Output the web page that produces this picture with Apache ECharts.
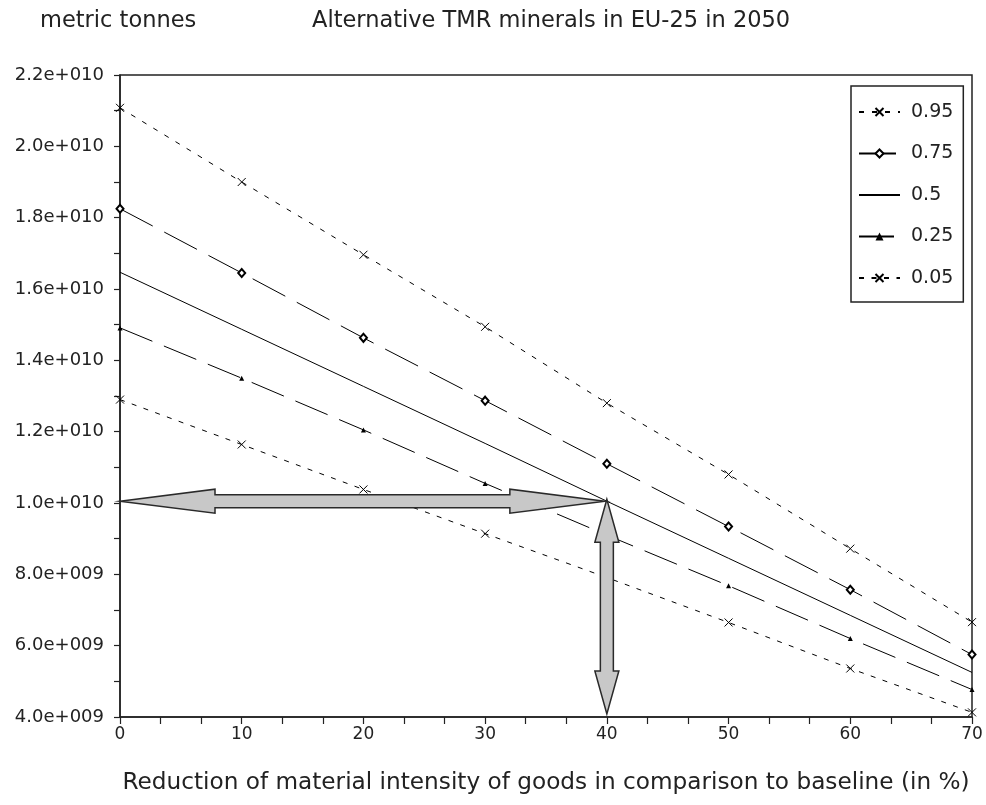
<!DOCTYPE html>
<html><head><meta charset="utf-8">
<script src="https://cdn.jsdelivr.net/npm/echarts@6/dist/echarts.min.js"></script>
<style>html,body{margin:0;padding:0;background:#fff}#chart{width:986px;height:805px}</style>
</head><body><div id="chart"></div>
<script>
// Reduction of material intensity (%) and TMR minerals (metric tonnes) per quantile
const reduction = [0, 10, 20, 30, 40, 50, 60, 70];
const q95 = [21.08e9, 19.0e9, 16.96e9, 14.94e9, 12.8e9, 10.8e9, 8.72e9, 6.66e9];
const q75 = [18.25e9, 16.45e9, 14.63e9, 12.87e9, 11.1e9, 9.34e9, 7.57e9, 5.75e9];
const q50 = [16.47e9, 14.87e9, 13.27e9, 11.67e9, 10.05e9, 8.45e9, 6.85e9, 5.25e9];
const q25 = [14.91e9, 13.5e9, 12.05e9, 10.55e9, 9.1e9, 7.68e9, 6.2e9, 4.77e9];
const q05 = [12.9e9, 11.64e9, 10.38e9, 9.14e9, 7.91e9, 6.65e9, 5.36e9, 4.13e9];
const seriesNames = ['0.95', '0.75', '0.5', '0.25', '0.05'];
const xRange = [0, 70, 10];
const yRange = [4e9, 2.2e10, 2e9];
// highlighted reading on the median line
const targetReduction = 40;

const FONT = 'DejaVu Sans';
const INK = '#222';

function sci(v) {
  if (v === 0) return '0';
  const e = Math.floor(Math.log10(Math.abs(v)) + 1e-9);
  const m = v / Math.pow(10, e);
  return m.toFixed(1) + 'e+' + String(e).padStart(3, '0');
}
function pairs(ys) { return reduction.map((x, i) => [x, ys[i]]); }

const crossSymbol = 'path://M0,0L10,10M0,10L10,0';
const targetValue = q50[reduction.indexOf(targetReduction)];

function arrowPoints(ax, ay, bx, by, headLen, headHalf, shaftHalf) {
  // double-headed arrow polygon from a to b
  const dx = bx - ax, dy = by - ay, len = Math.hypot(dx, dy);
  const ux = dx / len, uy = dy / len, nx = -uy, ny = ux;
  const P = (s, t) => [ax + ux * s + nx * t, ay + uy * s + ny * t];
  return [P(0, 0), P(headLen, headHalf), P(headLen, shaftHalf), P(len - headLen, shaftHalf),
    P(len - headLen, headHalf), P(len, 0), P(len - headLen, -headHalf), P(len - headLen, -shaftHalf),
    P(headLen, -shaftHalf), P(headLen, -headHalf)];
}

const legendItems = seriesNames.map(n => n === '0.5'
  ? {name: n, itemStyle: {opacity: 0}}   // plain line, no marker
  : {name: n});

const chart = echarts.init(document.getElementById('chart'), null, {renderer: 'canvas'});
chart.setOption({
  animation: false,
  backgroundColor: '#fff',
  textStyle: {fontFamily: FONT, color: INK},
  title: [
    {text: 'metric tonnes', left: 40, top: 10, padding: 0, textStyle: {fontFamily: FONT, fontSize: 22.5, fontWeight: 'normal', color: INK}},
    {text: 'Alternative TMR minerals in EU-25 in 2050', left: 312, top: 10, padding: 0, textStyle: {fontFamily: FONT, fontSize: 22.5, fontWeight: 'normal', color: INK}}
  ],
  grid: {left: 120, right: 14, top: 75, bottom: 88, show: true, borderColor: INK, borderWidth: 1.5, backgroundColor: 'transparent'},
  legend: {
    orient: 'vertical', left: 851, top: 86,
    data: legendItems,
    itemWidth: 41, itemHeight: 10, itemGap: 21.5,
    padding: [16, 10, 14, 7],
    borderColor: INK, borderWidth: 1.5, backgroundColor: '#fff',
    textStyle: {fontFamily: FONT, fontSize: 19, color: INK, lineHeight: 20, padding: [0, 0, 0, 6]},
    selectedMode: false
  },
  xAxis: {
    type: 'value', min: xRange[0], max: xRange[1], interval: xRange[2],
    name: 'Reduction of material intensity of goods in comparison to baseline (in %)',
    nameLocation: 'middle', nameGap: 54,
    nameTextStyle: {fontFamily: FONT, fontSize: 23.2, color: INK},
    axisLine: {lineStyle: {color: INK, width: 1.5}},
    axisTick: {show: true, inside: false, length: 7, lineStyle: {color: INK, width: 1.2}},
    minorTick: {show: true, splitNumber: 3, length: 7, lineStyle: {color: INK, width: 1.2}},
    axisLabel: {fontFamily: FONT, fontSize: 17, color: INK, margin: 9},
    splitLine: {show: false}
  },
  yAxis: {
    type: 'value', min: yRange[0], max: yRange[1], interval: yRange[2],
    axisLine: {show: true, lineStyle: {color: INK, width: 1.5}},
    axisTick: {show: true, inside: false, length: 6, lineStyle: {color: INK, width: 1.2}},
    minorTick: {show: true, splitNumber: 2, length: 6, lineStyle: {color: INK, width: 1.2}},
    axisLabel: {fontFamily: FONT, fontSize: 18, color: INK, margin: 16, formatter: sci},
    splitLine: {show: false}
  },
  series: [
    {name: '0.95', type: 'line', data: pairs(q95), symbol: crossSymbol, symbolSize: 8,
      itemStyle: {color: '#000', borderColor: '#000', borderWidth: 1},
      lineStyle: {color: '#000', width: 1, type: [5, 8]}, z: 3},
    {name: '0.75', type: 'line', data: pairs(q75), symbol: 'emptyDiamond', symbolSize: [7, 8],
      itemStyle: {color: '#000', borderColor: '#000', borderWidth: 1},
      lineStyle: {color: '#000', width: 1, type: [37, 13]}, z: 3},
    {name: '0.5', type: 'line', data: pairs(q50), symbol: 'none',
      itemStyle: {color: '#000'},
      lineStyle: {color: '#000', width: 1, type: 'solid'}, z: 3},
    {name: '0.25', type: 'line', data: pairs(q25), symbol: 'triangle', symbolSize: 5,
      itemStyle: {color: '#000', borderColor: '#000', borderWidth: 0},
      lineStyle: {color: '#000', width: 1, type: [35, 12.5]}, z: 3},
    {name: '0.05', type: 'line', data: pairs(q05), symbol: crossSymbol, symbolSize: 8,
      itemStyle: {color: '#000', borderColor: '#000', borderWidth: 1},
      lineStyle: {color: '#000', width: 1, type: [5, 7.5]}, z: 3},
    {
      name: 'reading', type: 'custom', z: 5, clip: false,
      data: [[targetReduction, targetValue]],
      renderItem: function (params, api) {
        const x = api.value(0), y = api.value(1);
        const p = api.coord([x, y]);
        const pl = api.coord([xRange[0], y]);
        const pb = api.coord([x, yRange[0]]);
        const style = {fill: '#c8c8c8', stroke: '#2a2a2a', lineWidth: 1.5, lineJoin: 'miter'};
        return {
          type: 'group',
          children: [
            {type: 'polygon', shape: {points: arrowPoints(pl[0], pl[1], p[0] - 2, p[1], 95, 12, 6.5)}, style: style},
            {type: 'polygon', shape: {points: arrowPoints(p[0], p[1] - 2, pb[0], pb[1] - 3, 43, 12, 6.5)}, style: style}
          ]
        };
      }
    }
  ]
});
</script></body></html>
